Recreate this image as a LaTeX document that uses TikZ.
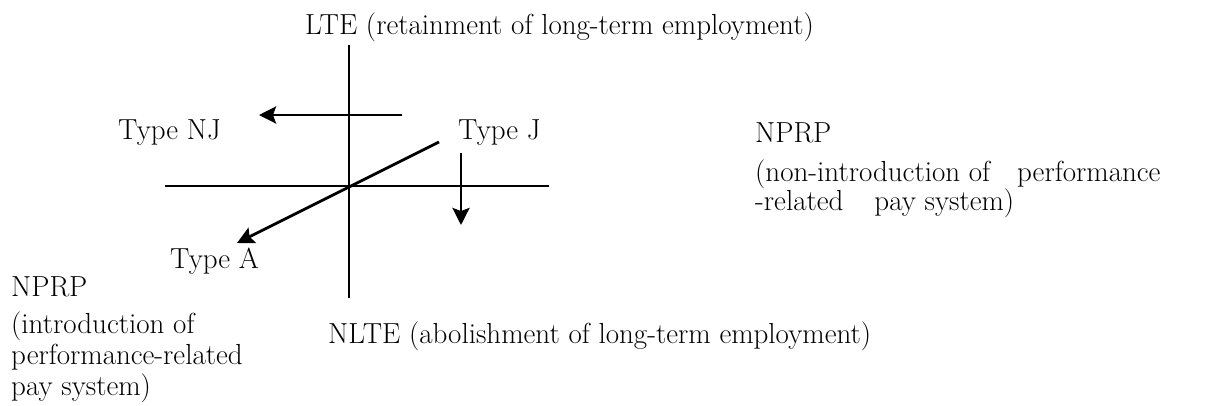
\documentclass[tikz,border=0pt]{standalone}
\usetikzlibrary{arrows.meta}
\begin{document}
\begin{tikzpicture}[x=1pt,y=-1pt,
  lbl/.style={inner sep=0pt,anchor=base west,font=\fontsize{29}{30}\selectfont},
  axis/.style={line width=1.4pt},
  move/.style={line width=2.8pt,-{Stealth[length=17pt,width=17pt,inset=3pt]}}]
\useasboundingbox (0,0) rectangle (1210,405);
% axes
\coordinate (vt) at (349,45);
\coordinate (vb) at (349,298);
\coordinate (hl) at (165,186);
\coordinate (hr) at (549,186);
\draw[axis] (vt) -- (vb);
\draw[axis] (hl) -- (hr);
% arrows
\coordinate (njs) at (402,115);
\coordinate (nje) at (259,115);
\coordinate (as) at (439,142);
\coordinate (ae) at (237,243);
\coordinate (ds) at (461,153);
\coordinate (de) at (461,225);
\draw[move] (njs) -- (nje);
\draw[move] (as) -- (ae);
\draw[move] (ds) -- (de);
% labels
\node[lbl] (lte) at (305,34) {LTE (retainment of long-term employment)};
\node[lbl] (nlte) at (328,343) {NLTE (abolishment of long-term employment)};
\node[lbl] (tnj) at (118,139) {Type NJ};
\node[lbl] (tj) at (458,139) {Type J};
\node[lbl] (ta) at (170,268) {Type A};
\node[lbl] (np1) at (11,296) {NPRP};
\node[lbl] (np1a) at (11,333) {(introduction of};
\node[lbl] (np1b) at (11,364) {performance-related};
\node[lbl] (np1c) at (11,395) {pay system)};
\node[lbl] (np2) at (755,142) {NPRP};
\node[lbl] (np2a) at (755,181) {(non-introduction of\hspace{0.93em}performance};
\node[lbl] (np2b) at (755,210) {-related\hspace{1.07em}pay system)};
\end{tikzpicture}
\end{document}
